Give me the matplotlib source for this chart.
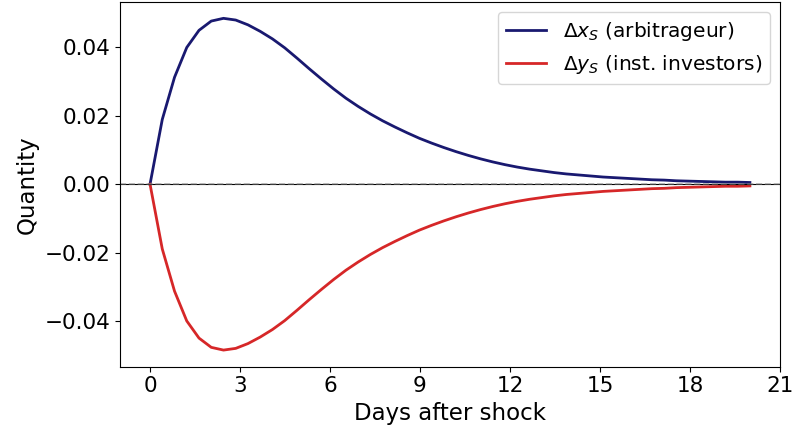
"""Impulse response of arbitrageur vs institutional investor positions."""

import matplotlib.pyplot as plt
import numpy as np

# days after the shock (50 evenly spaced points from 0 to 20)
days = np.linspace(0, 20, 50)

dx_arb = [
    0.0, 0.0189, 0.0312, 0.0399, 0.0449, 0.0476, 0.0484, 0.0479, 0.0465, 0.0446,
    0.0424, 0.0398, 0.0368, 0.0337, 0.0307, 0.0278, 0.0251, 0.0227, 0.0205, 0.0185,
    0.0167, 0.0150, 0.0134, 0.0120, 0.0107, 0.0095, 0.0084, 0.0074, 0.0065, 0.0057,
    0.0050, 0.0044, 0.0039, 0.0034, 0.0030, 0.0027, 0.0024, 0.0021, 0.0019, 0.0017,
    0.0015, 0.0013, 0.0012, 0.0010, 0.0009, 0.0008, 0.0007, 0.0006, 0.0006, 0.0005,
]
dy_inst = [
    0.0, -0.0189, -0.0312, -0.0399, -0.0449, -0.0476, -0.0484, -0.0479, -0.0465, -0.0446,
    -0.0424, -0.0398, -0.0368, -0.0337, -0.0307, -0.0278, -0.0251, -0.0227, -0.0205, -0.0185,
    -0.0167, -0.0150, -0.0134, -0.0120, -0.0107, -0.0095, -0.0084, -0.0074, -0.0065, -0.0057,
    -0.0050, -0.0044, -0.0039, -0.0034, -0.0030, -0.0027, -0.0024, -0.0021, -0.0019, -0.0017,
    -0.0015, -0.0013, -0.0012, -0.0010, -0.0009, -0.0008, -0.0007, -0.0006, -0.0006, -0.0005,
]

fig, ax = plt.subplots(figsize=(7.95, 4.36), dpi=100)
fig.subplots_adjust(left=0.151, right=0.981, top=0.996, bottom=0.159)

ax.plot(days, dx_arb, color="#191970", lw=2, label=r"$\Delta x_S$ (arbitrageur)")
ax.plot(days, dy_inst, color="#d62728", lw=2, label=r"$\Delta y_S$ (inst. investors)")
ax.axhline(0, color="black", lw=0.8)
ax.axhline(0, color="gray", ls="--", lw=1.2, alpha=0.6)

ax.set_xticks(np.arange(0, 22, 3))
ax.set_yticks([-0.04, -0.02, 0.0, 0.02, 0.04])
ax.tick_params(labelsize=15.5)
ax.set_xlabel("Days after shock", fontsize=16.5)
ax.set_ylabel("Quantity", fontsize=16.5)
ax.legend(loc="upper right", fontsize=14.5)

fig.savefig("out.png", dpi=100)
